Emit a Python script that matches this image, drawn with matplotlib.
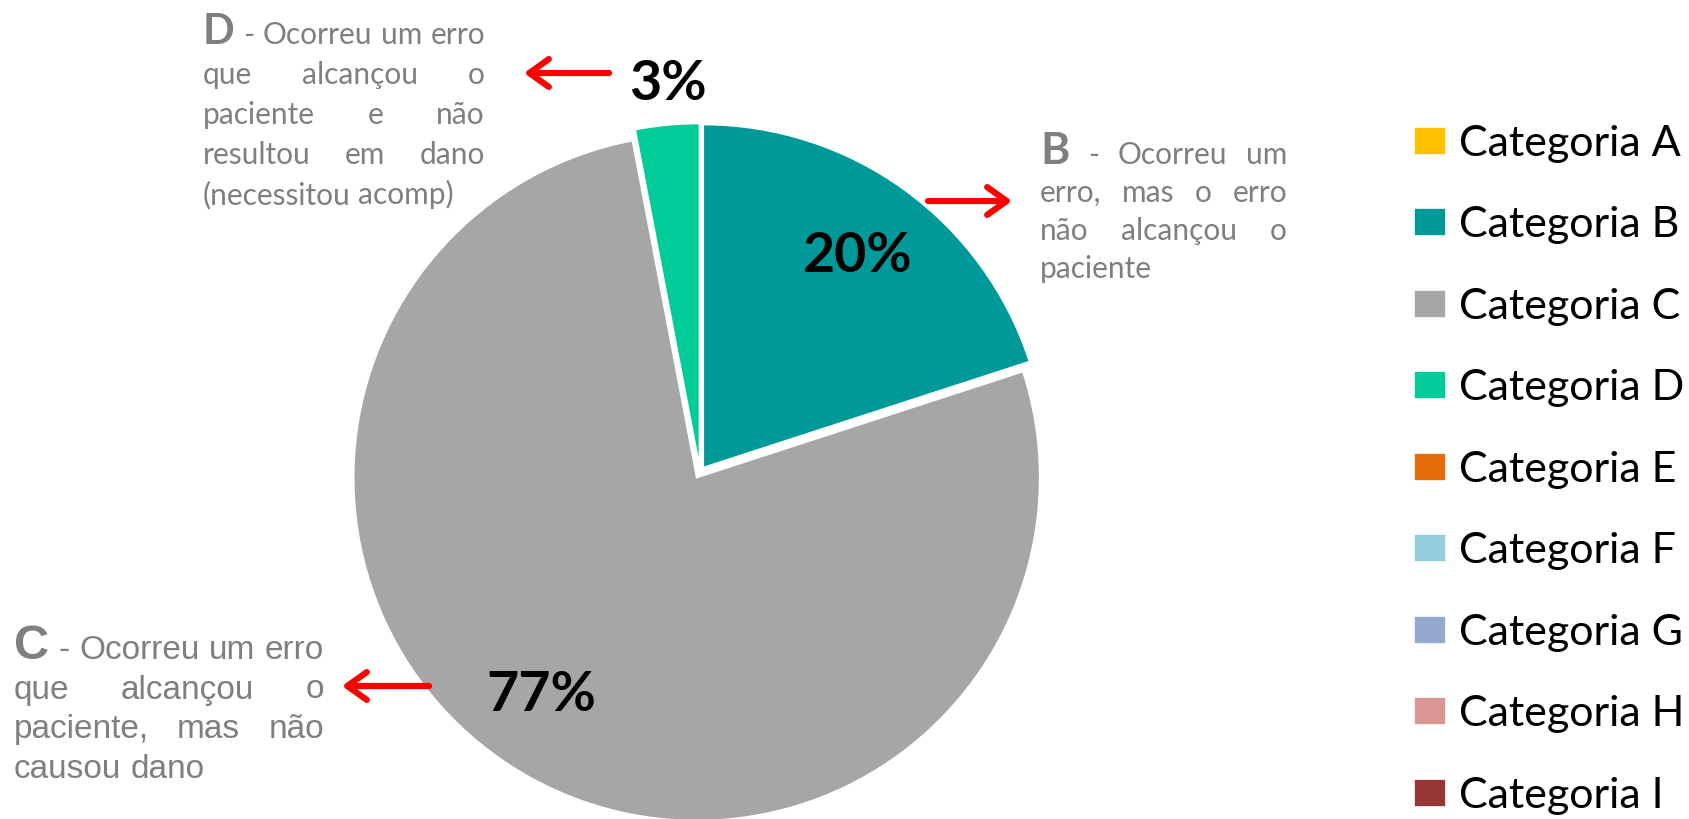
import matplotlib
matplotlib.use("Agg")
import matplotlib.pyplot as plt
from matplotlib import font_manager

W, H = 1689, 819

categories = ["Categoria A", "Categoria B", "Categoria C", "Categoria D", "Categoria E",
              "Categoria F", "Categoria G", "Categoria H", "Categoria I"]
percentages = [0, 20, 77, 3, 0, 0, 0, 0, 0]
colors = ["#FFC000", "#009999", "#A6A6A6", "#00CC99", "#E46C0A",
          "#92CDDC", "#95A9CF", "#D99694", "#953735"]

desc_b = ["- Ocorreu um", "erro, mas o erro", "não alcançou o", "paciente"]
desc_c = ["- Ocorreu um erro", "que alcançou o", "paciente, mas não", "causou dano"]
desc_d = ["- Ocorreu um erro", "que alcançou o", "paciente e não", "resultou em dano",
          "(necessitou acomp)"]


def has_font(name):
    try:
        font_manager.findfont(name, fallback_to_default=False)
        return True
    except Exception:
        return False


narrow = "Liberation Sans Narrow" if has_font("Liberation Sans Narrow") else "Liberation Sans"
grey = "#7F7F7F"

fig = plt.figure(figsize=(W / 100, H / 100), dpi=100)
ax = fig.add_axes([0, 0, 1, 1])

# axes is in pixel units, so explode is an offset in pixels here
explode = [0, 5.5, 6.5, 5.5, 0, 0, 0, 0, 0]
wedges, _ = ax.pie(percentages, colors=colors, startangle=90, counterclock=False,
                   center=(700, H - 472), radius=343, explode=explode,
                   wedgeprops=dict(edgecolor="white", linewidth=1.2))
ax.set_xlim(0, W)
ax.set_ylim(0, H)
ax.set_aspect("auto")
ax.axis("off")

# percentages
pct_pos = {1: (858, 272), 2: (541, 711), 3: (668, 100)}
for i, (x, y) in pct_pos.items():
    ax.text(x, H - y, f"{percentages[i]}%", ha="center", va="baseline",
            fontsize=40, fontweight="bold", family="Lato", color="black")

# arrows (tail -> head)
arrows = [((609, 73), (524, 73)), ((928, 201), (1012, 201)), ((429, 686), (342, 686))]
for (tx, ty), (hx, hy) in arrows:
    ax.annotate("", xy=(hx, H - hy), xytext=(tx, H - ty),
                arrowprops=dict(arrowstyle="->,head_length=0.7,head_width=0.5",
                                color="red", lw=4.5, mutation_scale=20,
                                shrinkA=0, shrinkB=0, capstyle="round",
                                joinstyle="round"))

renderer = fig.canvas.get_renderer()


def width_of(s, kw):
    t = ax.text(0, 0, s, **kw)
    w = t.get_window_extent(renderer).width
    t.remove()
    return w


def justified(letter, lines, x0, x1, base0, dy, body_kw, letter_kw):
    space = width_of("a a", body_kw) - 2 * width_of("a", body_kw)
    for i, line in enumerate(lines):
        words = line.split()
        kws = [body_kw] * len(words)
        if i == 0:
            words = [letter] + words
            kws = [letter_kw] + kws
        widths = [width_of(w, k) for w, k in zip(words, kws)]
        if i < len(lines) - 1 and len(words) > 1:
            gap = (x1 - x0 - sum(widths)) / (len(words) - 1)
        else:
            gap = space
        x = x0
        y = H - (base0 + i * dy)
        for w, k, wd in zip(words, kws, widths):
            ax.text(x, y, w, ha="left", va="baseline", **k)
            x += wd + gap


body_cal = dict(fontsize=21.5, family="Lato", color=grey)
justified("D", desc_d, 203, 485, 44, 40, body_cal,
          dict(fontsize=30, family="Lato", fontweight="bold", color=grey))
justified("B", desc_b, 1040, 1287, 164, 38, body_cal,
          dict(fontsize=32, family="Lato", fontweight="bold", color=grey))
justified("C", desc_c, 14, 324, 659, 39.5,
          dict(fontsize=24, family=narrow, color=grey),
          dict(fontsize=35, family="Liberation Sans", fontweight="bold", color=grey))

ax.legend(wedges, categories, loc="upper left", bbox_to_anchor=(1414 / W, 1 - 125 / H),
          frameon=False, prop=dict(family="Lato", size=31), borderpad=0,
          borderaxespad=0, labelspacing=1.01, handlelength=0.75, handleheight=0.62,
          handletextpad=0.3)

fig.savefig("out.png", dpi=100)
